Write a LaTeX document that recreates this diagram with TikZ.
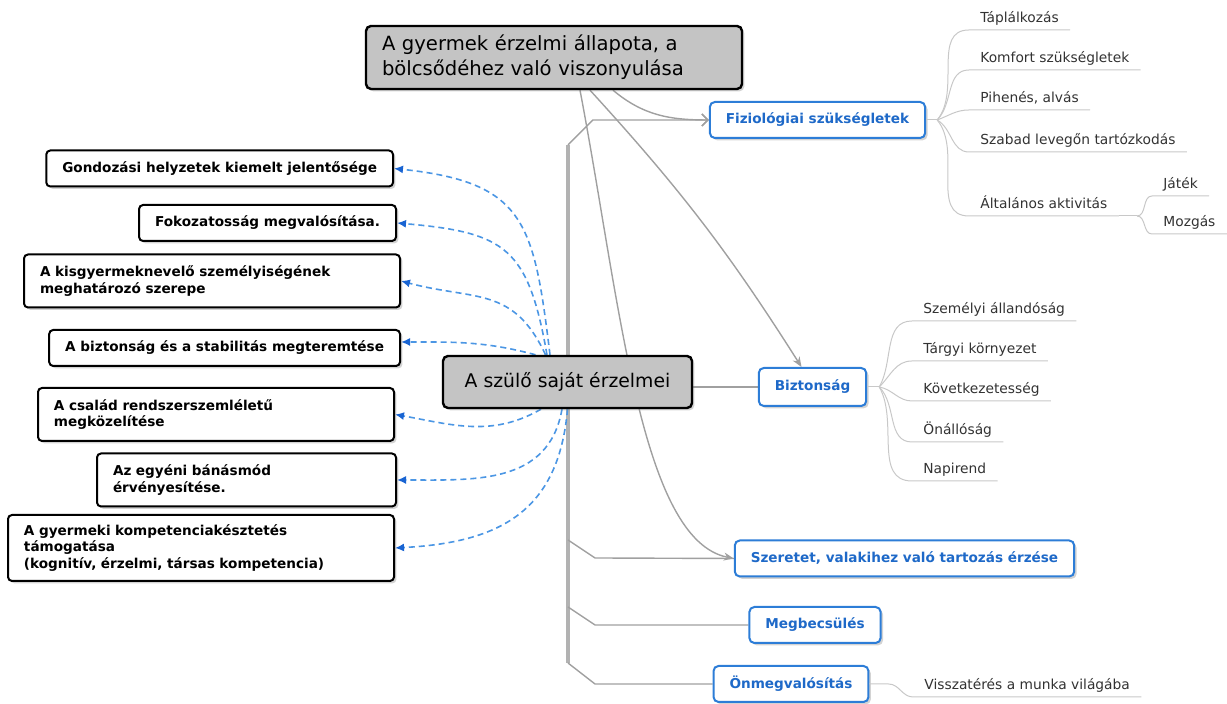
\documentclass[tikz,border=0pt]{standalone}
\usepackage{fontspec}
\setmainfont{DejaVu Sans}
\usetikzlibrary{arrows.meta,shadows}
\definecolor{boxgray}{RGB}{196,196,196}
\definecolor{needline}{RGB}{45,125,215}
\definecolor{needtext}{RGB}{30,105,200}
\definecolor{hintblue}{RGB}{75,150,228}
\definecolor{tipblue}{RGB}{25,100,210}
\definecolor{linkgray}{RGB}{160,160,160}
\definecolor{spinegray}{RGB}{178,178,178}
\definecolor{twiggray}{RGB}{200,200,200}
\definecolor{itemtext}{RGB}{50,50,50}
\pgfdeclarelayer{bg}
\pgfsetlayers{bg,main}
\begin{document}
\begin{tikzpicture}[x=0.5pt, y=0.5pt,
  shade/.style = {drop shadow={shadow xshift=1.2pt, shadow yshift=-1.2pt, opacity=.35}},
  hub/.style = {draw, line width=1.2pt, fill=boxgray, rounded corners=2.5pt, shade},
  care/.style = {draw, line width=1pt, fill=white, rounded corners=2pt, shade, anchor=east, align=left,
    font=\bfseries\fontsize{6.8}{8.4}\selectfont, inner xsep=8pt, minimum height=18pt},
  need/.style = {draw=needline, line width=1pt, fill=white, rounded corners=2.5pt, shade, text=needtext,
    font=\bfseries\fontsize{6.8}{8}\selectfont, inner xsep=8pt, minimum height=18pt},
  item/.style = {text=itemtext, font=\fontsize{6.9}{8}\selectfont, inner xsep=5.5pt, inner ysep=3.5pt,
    text depth=0pt, anchor=south west},
  twig/.style = {draw=twiggray, line width=0.5pt},
  link/.style = {draw=linkgray, line width=0.7pt},
  spine/.style = {draw=spinegray, line width=2pt},
  hint/.style = {draw=hintblue, line width=0.8pt, dash pattern=on 3pt off 2pt,
    -{Latex[length=4.5pt,width=4pt,color=tipblue]}}]
\useasboundingbox (0,0) rectangle (1227,704);

\node[hub, align=left, text width=172pt, inner xsep=8pt, minimum height=31.5pt,
  font=\fontsize{9.8}{12.5}\selectfont] (top) at (554,646.5)
  {A gyermek érzelmi állapota, a\\bölcsődéhez való viszonyulása};
\node[hub, minimum width=124.5pt, minimum height=26pt, font=\fontsize{9.4}{11}\selectfont]
  (par) at (567.5,322) {A szülő saját érzelmei};

\node[care] (b1) at (394,535.5) {Gondozási helyzetek kiemelt jelentősége};
\node[care] (b2) at (397,481) {Fokozatosság megvalósítása.};
\node[care, text width=172pt, minimum height=26.5pt] (b3) at (401,423)
  {A kisgyermeknevelő személyiségének\\meghatározó szerepe};
\node[care] (b4) at (401,356) {A biztonság és a stabilitás megteremtése};
\node[care, text width=162pt, minimum height=26.5pt] (b5) at (395,289.5)
  {A család rendszerszemléletű\\megközelítése};
\node[care, text width=133.5pt, minimum height=26.5pt] (b6) at (397,224)
  {Az egyéni bánásmód\\érvényesítése.};
\node[care, text width=177pt, minimum height=33pt] (b7) at (395,156)
  {A gyermeki kompetenciakésztetés\\támogatása\\(kognitív, érzelmi, társas kompetencia)};

\node[need] (fiz) at (817.5,584) {Fiziológiai szükségletek};
\node[need, minimum height=19pt] (bizt) at (812.5,317) {Biztonság};
\node[need] (sze) at (904.5,145.5) {Szeretet, valakihez való tartozás érzése};
\node[need] (meg) at (815,79) {Megbecsülés};
\node[need] (oen) at (791,20) {Önmegvalósítás};

\coordinate (fo) at ([xshift=5.5pt]fiz.east);
\draw[twig] (fiz.east) -- (fo);
\foreach \n/\y/\a/\txt in {1/674/50/Táplálkozás, 2/634/45/{Komfort szükségletek},
    3/594/20/{Pihenés, alvás}, 4/552/-30/{Szabad levegőn tartózkodás}, 5/488/-50/{Általános aktivitás}} {
  \node[item] (f\n) at (969,\y) {\txt};
  \draw[twig] (fo) to[out=\a,in=180] (f\n.south west) -- (f\n.south east);
}
\coordinate (ao) at (1137,488);
\draw[twig] (f5.south east) -- (ao);
\node[item] (j1) at (1152,508) {Játék};
\node[item] (j2) at (1152,470) {Mozgás};
\draw[twig] (ao) to[out=0,in=180] (j1.south west) -- (j1.south east);
\draw[twig] (ao) to[out=0,in=180] (j2.south west) -- (j2.south east);

\coordinate (bo) at ([xshift=6pt]bizt.east);
\draw[twig] (bizt.east) -- (bo);
\foreach \n/\y/\a/\txt in {1/383/60/{Személyi állandóság}, 2/343/45/{Tárgyi környezet},
    3/303/-10/Következetesség, 4/262/-45/Önállóság, 5/223/-60/Napirend} {
  \node[item] (k\n) at (912,\y) {\txt};
  \draw[twig] (bo) to[out=\a,in=180] (k\n.south west) -- (k\n.south east);
}

\node[item] (v1) at (913,7) {Visszatérés a munka világába};
\coordinate (vo) at ([xshift=9.5pt]oen.east);
\draw[twig] (oen.east) -- (vo) to[out=0,in=180] (v1.south west) -- (v1.south east);

\begin{pgfonlayer}{bg}
\coordinate (s0) at (568,559);
\coordinate (s1) at (568,164);
\coordinate (s2) at (568,97);
\coordinate (s3) at (568,41);
\draw[spine] (s0) -- (s3);
\draw[link, -{Straight Barb[length=3pt,width=6pt]}] (s0) -- ++(25,25) -- (fiz.west);
\draw[link] (s1) -- ++(27,-18) -- (sze.west);
\draw[link] (s2) -- ++(27,-18) -- (meg.west);
\draw[link] (s3) -- ++(27,-21) -- (oen.west);
\draw[link] (bizt.west) -- (bizt.west -| par.east);

\draw[link, -{Straight Barb[length=3pt,width=6pt]}] ([xshift=29.5pt]top.south) to[out=-40,in=180] (fiz.west);
\draw[link, -{Stealth[length=5pt,width=4pt]}] ([xshift=18pt]top.south) to[bend left=5] ([xshift=-5.5pt]bizt.north);
\draw[link, -{Stealth[length=5pt,width=4pt]}] ([xshift=13pt]top.south) .. controls (620,404) and (640,164) .. (sze.west);

\draw[hint] ([xshift=-8.75pt]par.north) to[out=97,in=-6,looseness=1.4] (b1.east);
\draw[hint] ([xshift=-10.25pt]par.north) to[out=100,in=-5,looseness=1.4] (b2.east);
\draw[hint] ([xshift=-11pt]par.north) to[out=115,in=-15,looseness=1.2] (b3.east);
\draw[hint] ([xshift=-16pt]par.north) to[out=165,in=0] ([yshift=3pt]b4.east);
\draw[hint] ([xshift=-13.25pt]par.south) to[out=-150,in=-10] (b5.east);
\draw[hint] ([xshift=-2.75pt]par.south) to[out=-100,in=0,looseness=1.1] (b6.east);
\draw[hint] (par.south) to[out=-95,in=3,looseness=1.2] (b7.east);
\end{pgfonlayer}
\end{tikzpicture}
\end{document}
